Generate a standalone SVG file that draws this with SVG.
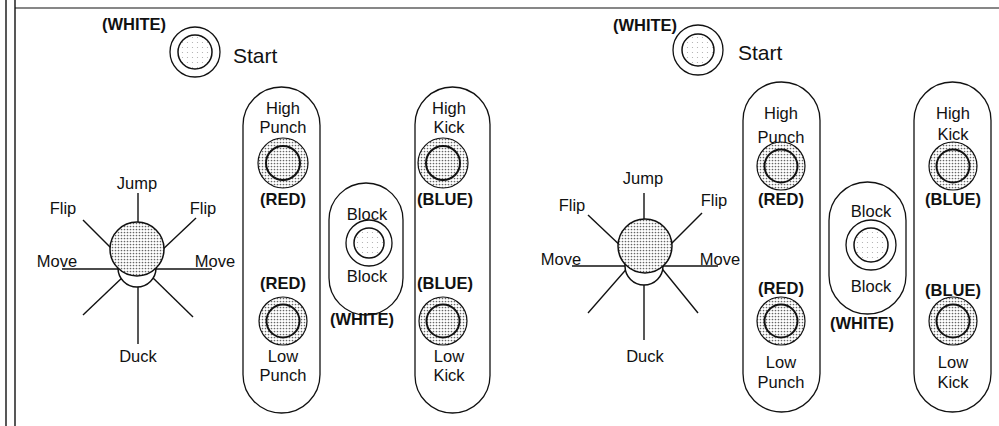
<svg xmlns="http://www.w3.org/2000/svg" width="999" height="426" viewBox="0 0 999 426">
<style>
text{font-family:"Liberation Sans",Arial,sans-serif;font-size:16.5px;fill:#111;text-anchor:middle}
.b{font-weight:bold}
.st{font-size:21px;text-anchor:start}
.ln{stroke:#111;stroke-width:1.4;fill:none}
.pill{fill:none;stroke:#111;stroke-width:1.3}
.out{fill:url(#dense);stroke:#111;stroke-width:1.2}
.inn{fill:url(#dense);stroke:#111;stroke-width:2}
.wout{fill:#fff;stroke:#111;stroke-width:1.3}
.winn{fill:url(#light);stroke:#111;stroke-width:1.5}
.ball{fill:url(#dense);stroke:#111;stroke-width:1.5}
.base{fill:#fff;stroke:#111;stroke-width:1.5}
</style>
<defs>
<pattern id="dense" width="3" height="3" patternUnits="userSpaceOnUse">
<rect width="3" height="3" fill="#fff"/>
<circle cx="1.5" cy="1.5" r="0.85" fill="#666"/>
</pattern>
<pattern id="light" width="5" height="5" patternUnits="userSpaceOnUse">
<rect width="5" height="5" fill="#fff"/>
<circle cx="2.5" cy="2.5" r="0.6" fill="#aaa"/>
</pattern>
</defs>
<rect width="999" height="426" fill="#fff"/>
<g id="frame" class="ln">
<line x1="6" y1="0" x2="6" y2="426"/>
<line x1="15" y1="0" x2="15" y2="426"/>
<line x1="15" y1="8" x2="999" y2="8" stroke-width="1.2"/>
</g>

<!-- LEFT PANEL -->
<g id="start-left">
<text class="b" x="134" y="30">(WHITE)</text>
<circle class="wout" cx="195" cy="52" r="25"/>
<circle class="winn" cx="195" cy="52" r="17"/>
<text class="st" x="233" y="63">Start</text>
</g>
<g id="joystick-left">
<g class="ln">
<line x1="138" y1="193" x2="138" y2="230"/>
<line x1="83" y1="220" x2="118" y2="255"/>
<line x1="196" y1="218" x2="160" y2="252"/>
<line x1="62" y1="269" x2="137" y2="269"/>
<line x1="137" y1="269" x2="212" y2="269"/>
<line x1="83" y1="315" x2="125" y2="275"/>
<line x1="193" y1="317" x2="150" y2="275"/>
<line x1="138" y1="280" x2="138" y2="344"/>
</g>
<circle class="base" cx="137" cy="268" r="19"/>
<circle class="ball" cx="137" cy="249" r="27"/>
<text x="137" y="189">Jump</text>
<text x="63" y="214">Flip</text>
<text x="203" y="214">Flip</text>
<text x="57" y="267">Move</text>
<text x="215" y="267">Move</text>
<text x="138" y="362">Duck</text>
</g>
<g id="punch-left">
<rect class="pill" x="243" y="87" width="77" height="326" rx="38.5"/>
<text x="283" y="114">High</text>
<text x="283" y="133">Punch</text>
<circle class="out" cx="283" cy="163" r="25"/>
<circle class="inn" cx="283" cy="163" r="17"/>
<text class="b" x="283" y="205">(RED)</text>
<text class="b" x="283" y="289">(RED)</text>
<circle class="out" cx="283" cy="321" r="24"/>
<circle class="inn" cx="283" cy="321" r="16.5"/>
<text x="283" y="362">Low</text>
<text x="283" y="381">Punch</text>
</g>
<g id="block-left">
<rect class="pill" x="329" y="183" width="74" height="132" rx="37"/>
<text x="367" y="220">Block</text>
<circle class="wout" cx="369" cy="243" r="23"/>
<circle class="winn" cx="369" cy="243" r="15"/>
<text x="367" y="282">Block</text>
<text class="b" x="362" y="325">(WHITE)</text>
</g>
<g id="kick-left">
<rect class="pill" x="415" y="87" width="75" height="326" rx="37.5"/>
<text x="449" y="114">High</text>
<text x="449" y="133">Kick</text>
<circle class="out" cx="443" cy="163" r="25"/>
<circle class="inn" cx="443" cy="163" r="17"/>
<text class="b" x="445" y="205">(BLUE)</text>
<text class="b" x="445" y="289">(BLUE)</text>
<circle class="out" cx="443" cy="321" r="24"/>
<circle class="inn" cx="443" cy="321" r="16.5"/>
<text x="449" y="362">Low</text>
<text x="449" y="381">Kick</text>
</g>

<!-- RIGHT PANEL -->
<g id="start-right">
<text class="b" x="645" y="31">(WHITE)</text>
<circle class="wout" cx="698" cy="50" r="25"/>
<circle class="winn" cx="698" cy="50" r="16"/>
<text class="st" x="738" y="60">Start</text>
</g>
<g id="joystick-right">
<g class="ln">
<line x1="644" y1="193" x2="644" y2="228"/>
<line x1="588" y1="215" x2="625" y2="250"/>
<line x1="702" y1="213" x2="665" y2="250"/>
<line x1="572" y1="266" x2="645" y2="266"/>
<line x1="645" y1="266" x2="718" y2="266"/>
<line x1="588" y1="313" x2="630" y2="265"/>
<line x1="698" y1="313" x2="659" y2="265"/>
<line x1="644" y1="278" x2="644" y2="340"/>
</g>
<circle class="base" cx="644" cy="266" r="19"/>
<circle class="ball" cx="645" cy="246" r="27"/>
<text x="643" y="184">Jump</text>
<text x="572" y="211">Flip</text>
<text x="714" y="206">Flip</text>
<text x="561" y="265">Move</text>
<text x="720" y="265">Move</text>
<text x="645" y="362">Duck</text>
</g>
<g id="punch-right">
<rect class="pill" x="743" y="82" width="77" height="330" rx="38.5"/>
<text x="781" y="119">High</text>
<text x="781" y="143">Punch</text>
<circle class="out" cx="781" cy="166" r="24"/>
<circle class="inn" cx="781" cy="166" r="16.5"/>
<text class="b" x="781" y="205">(RED)</text>
<text class="b" x="781" y="294">(RED)</text>
<circle class="out" cx="781" cy="321" r="24"/>
<circle class="inn" cx="781" cy="321" r="16.5"/>
<text x="781" y="368">Low</text>
<text x="781" y="388">Punch</text>
</g>
<g id="block-right">
<rect class="pill" x="829" y="182" width="77" height="132" rx="38.5"/>
<text x="871" y="217">Block</text>
<circle class="wout" cx="871" cy="245" r="25"/>
<circle class="winn" cx="871" cy="245" r="17"/>
<text x="871" y="292">Block</text>
<text class="b" x="862" y="329">(WHITE)</text>
</g>
<g id="kick-right">
<rect class="pill" x="914" y="82" width="77" height="330" rx="38.5"/>
<text x="953" y="119">High</text>
<text x="953" y="140">Kick</text>
<circle class="out" cx="953" cy="166" r="24"/>
<circle class="inn" cx="953" cy="166" r="16.5"/>
<text class="b" x="953" y="205">(BLUE)</text>
<text class="b" x="953" y="296">(BLUE)</text>
<circle class="out" cx="953" cy="321" r="24"/>
<circle class="inn" cx="953" cy="321" r="16.5"/>
<text x="953" y="368">Low</text>
<text x="953" y="388">Kick</text>
</g>
</svg>
